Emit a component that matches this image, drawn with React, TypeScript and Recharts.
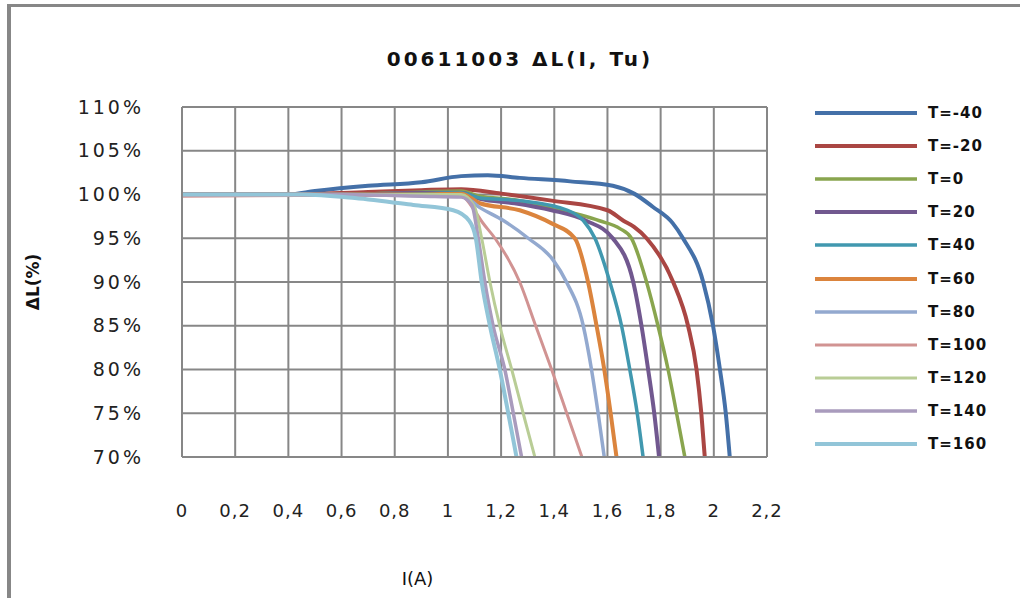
import React from 'react';
import { LineChart, Line, XAxis, YAxis, CartesianGrid } from 'recharts';

// current steps (A) and inductance drop (%) read per temperature curve
const iTm40 = [0, 0.2, 0.4, 0.5, 0.7, 0.9, 1.05, 1.15, 1.27, 1.46, 1.62, 1.7, 1.77, 1.846, 1.884, 1.96, 1.997, 2.023, 2.045, 2.06];
const lTm40 = [100, 100, 100, 100.4, 101, 101.4, 102.1, 102.2, 101.9, 101.5, 101.0, 100.1, 98.6, 96.7, 95, 90, 85, 80, 75, 70];

const iTm20 = [0, 0.4, 0.7, 0.9, 1.05, 1.2, 1.39, 1.6, 1.66, 1.7, 1.747, 1.847, 1.903, 1.935, 1.953, 1.966];
const lTm20 = [100, 100, 100.3, 100.5, 100.6, 100.1, 99.3, 98.2, 97, 96.3, 95, 90, 85, 80, 75, 70];

const iT0 = [0, 0.6, 0.9, 1.05, 1.12, 1.25, 1.39, 1.57, 1.647, 1.69, 1.747, 1.79, 1.828, 1.86, 1.891];
const lT0 = [100, 100, 100.3, 100.4, 99.8, 99.4, 98.5, 97, 96.1, 95, 90, 85, 80, 75, 70];

const iT20 = [0, 0.6, 0.9, 1.05, 1.12, 1.25, 1.39, 1.52, 1.62, 1.697, 1.728, 1.753, 1.776, 1.794];
const lT20 = [100, 100, 100.2, 100.2, 99.5, 99, 98.2, 97, 95, 90, 85, 80, 75, 70];

const iT40 = [0, 0.6, 0.9, 1.05, 1.12, 1.27, 1.45, 1.51, 1.553, 1.609, 1.653, 1.684, 1.712, 1.734];
const lT40 = [100, 100, 100.1, 100.2, 99.6, 99.3, 98.2, 97, 95, 90, 85, 80, 75, 70];

const iT60 = [0, 0.6, 0.9, 1.05, 1.12, 1.27, 1.39, 1.477, 1.527, 1.559, 1.588, 1.612, 1.634];
const lT60 = [100, 100, 100, 100.1, 99, 98.2, 96.7, 95, 90, 85, 80, 75, 70];

const iT80 = [0, 0.6, 0.9, 1.05, 1.12, 1.21, 1.302, 1.396, 1.446, 1.509, 1.54, 1.565, 1.588];
const lT80 = [100, 100, 99.9, 99.9, 98.5, 97, 95, 92.5, 90, 85, 80, 75, 70];

const iT100 = [0, 0.6, 0.9, 1.05, 1.09, 1.13, 1.177, 1.27, 1.33, 1.39, 1.447, 1.504];
const lT100 = [99.8, 99.9, 99.9, 99.9, 98.6, 96.8, 95, 90, 85, 80, 75, 70];

const iT120 = [0, 0.6, 0.9, 1.05, 1.1, 1.127, 1.158, 1.195, 1.24, 1.283, 1.327];
const lT120 = [100, 100, 100, 100, 98.6, 95, 90, 85, 80, 75, 70];

const iT140 = [0, 0.6, 0.9, 1.05, 1.09, 1.114, 1.139, 1.17, 1.214, 1.246, 1.277];
const lT140 = [100, 100, 99.8, 99.7, 98.8, 95, 90, 85, 80, 75, 70];

const iT160 = [0, 0.45, 0.65, 0.87, 1.02, 1.08, 1.105, 1.127, 1.158, 1.195, 1.227, 1.258];
const lT160 = [100, 100, 99.6, 98.8, 98.2, 97, 95, 90, 85, 80, 75, 70];

const seriesNames = ['T=-40', 'T=-20', 'T=0', 'T=20', 'T=40', 'T=60', 'T=80', 'T=100', 'T=120', 'T=140', 'T=160'];
const seriesColors = ['#4470a8', '#aa4643', '#89a54e', '#71588f', '#4198af', '#db843d', '#93a9cf', '#d19392', '#b9cd96', '#a99bbd', '#92c5d8'];
const seriesWidths = [4, 4, 3.5, 4, 3.5, 4, 3.5, 3, 3, 3.5, 4];
const currents = [iTm40, iTm20, iT0, iT20, iT40, iT60, iT80, iT100, iT120, iT140, iT160];
const levels = [lTm40, lTm20, lT0, lT20, lT40, lT60, lT80, lT100, lT120, lT140, lT160];

const xTicks = [0, 0.2, 0.4, 0.6, 0.8, 1, 1.2, 1.4, 1.6, 1.8, 2, 2.2];
const yTicks = [70, 75, 80, 85, 90, 95, 100, 105, 110];

const font = '"DejaVu Sans", Verdana, sans-serif';
const gridColor = '#878787';

const App: React.FC = () => {
  const series = seriesNames.map((name, k) => ({
    name,
    color: seriesColors[k],
    width: seriesWidths[k],
    data: currents[k].map((i, j) => ({ i, l: levels[k][j] })),
  }));

  return (
    <div style={{ position: 'absolute', left: 0, top: 0, width: 1020, height: 598, background: '#fff', overflow: 'hidden', fontFamily: font }}>
      <div
        style={{
          position: 'absolute', left: 7, top: 4, width: 1020, height: 600,
          borderTop: `3px solid ${gridColor}`, borderLeft: `4px solid ${gridColor}`,
        }}
      />
      <div
        style={{
          position: 'absolute', left: 0, width: 1040, top: 47, textAlign: 'center',
          fontSize: 20, fontWeight: 'bold', letterSpacing: 3, color: '#111',
        }}
      >
        00611003 ΔL(I, Tu)
      </div>

      <div style={{ position: 'absolute', left: 0, top: 0 }}>
        <LineChart width={1020} height={598} margin={{ top: 107, right: 253, bottom: 0, left: 0 }}>
          <CartesianGrid stroke={gridColor} strokeWidth={2} />
          <XAxis
            type="number"
            dataKey="i"
            domain={[0, 2.2]}
            ticks={xTicks}
            height={141}
            tickSize={0}
            tickMargin={47}
            axisLine={{ stroke: gridColor, strokeWidth: 2 }}
            tick={{ fill: '#222', fontSize: 18, fontFamily: font, letterSpacing: 1 }}
            tickFormatter={(v: number) => String(v).replace('.', ',')}
            allowDuplicatedCategory={false}
            label={{ value: 'I(A)', position: 'center', dx: -57, dy: 51, fill: '#111', fontSize: 18, fontFamily: font }}
          />
          <YAxis
            type="number"
            domain={[70, 110]}
            ticks={yTicks}
            width={182}
            tickSize={0}
            tickMargin={38}
            axisLine={{ stroke: gridColor, strokeWidth: 2 }}
            tick={{ fill: '#222', fontSize: 19, fontFamily: font, letterSpacing: 3 }}
            tickFormatter={(v: number) => `${v}%`}
            label={{ value: 'ΔL(%)', position: 'center', angle: -90, dx: -58, fill: '#111', fontSize: 17, fontFamily: font, fontWeight: 'bold' }}
          />
          {series.map((s) => (
            <Line
              key={s.name}
              data={s.data}
              dataKey="l"
              name={s.name}
              type="monotone"
              stroke={s.color}
              strokeWidth={s.width}
              dot={false}
              isAnimationActive={false}
            />
          ))}
        </LineChart>
      </div>

      <div style={{ position: 'absolute', left: 815, top: 96 }}>
        {series.map((s) => (
          <div key={s.name} style={{ display: 'flex', alignItems: 'center', height: 33.2 }}>
            <svg width={102} height={8} style={{ display: 'block' }}>
              <line x1={0} y1={4} x2={102} y2={4} stroke={s.color} strokeWidth={s.width} />
            </svg>
            <span style={{ marginLeft: 11, fontSize: 15, letterSpacing: 1, color: '#111', fontWeight: 'bold' }}>{s.name}</span>
          </div>
        ))}
      </div>
    </div>
  );
};

export default App;
